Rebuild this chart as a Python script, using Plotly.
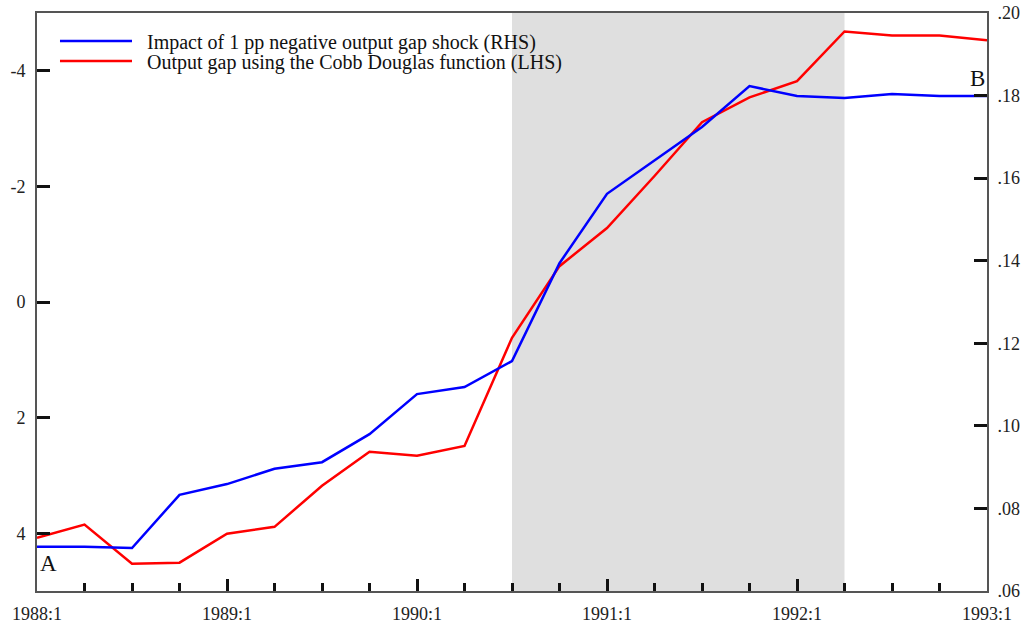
import plotly.graph_objects as go

quarters = ["1988:1", "1988:2", "1988:3", "1988:4",
            "1989:1", "1989:2", "1989:3", "1989:4",
            "1990:1", "1990:2", "1990:3", "1990:4",
            "1991:1", "1991:2", "1991:3", "1991:4",
            "1992:1", "1992:2", "1992:3", "1992:4",
            "1993:1"]

impact_rhs = [0.0707, 0.0707, 0.0704, 0.0833, 0.0859, 0.0896, 0.0912, 0.0980,
              0.1077, 0.1094, 0.1157, 0.1394, 0.1562, 0.1644, 0.1724, 0.1823,
              0.1799, 0.1794, 0.1804, 0.1799, 0.1799]

output_gap_lhs = [4.08, 3.85, 4.53, 4.51, 4.01, 3.89, 3.18, 2.59, 2.66, 2.49,
                  0.62, -0.62, -1.28, -2.18, -3.11, -3.54, -3.82, -4.68, -4.61,
                  -4.61, -4.53]

series_names = ["Impact of 1 pp negative output gap shock (RHS)",
                "Output gap using the Cobb Douglas function (LHS)"]
series_colors = ["#0000ff", "#ff0000"]

shade_start = "1990:3"
shade_end = "1992:2"

left_ticks = [-4, -2, 0, 2, 4]
right_ticks = [0.06, 0.08, 0.10, 0.12, 0.14, 0.16, 0.18, 0.20]
right_ticktext = [".06", ".08", ".10", ".12", ".14", ".16", ".18", ".20"]

x = list(range(len(quarters)))
year_idx = [i for i, q in enumerate(quarters) if q.endswith(":1")]

FONT = "Liberation Serif, Times New Roman, serif"
AXC = "#555555"
TXT = "#222222"

fig = go.Figure()
fig.add_trace(go.Scatter(x=x, y=impact_rhs, mode="lines", yaxis="y2",
                         name=series_names[0], showlegend=False,
                         line=dict(color=series_colors[0], width=2.5)))
fig.add_trace(go.Scatter(x=x, y=output_gap_lhs, mode="lines", yaxis="y",
                         name=series_names[1], showlegend=False,
                         line=dict(color=series_colors[1], width=2.5)))

fig.add_vrect(x0=quarters.index(shade_start), x1=quarters.index(shade_end),
              fillcolor="#dfdfdf", opacity=1, line_width=0, layer="below")

# legend (key) in the top-left corner
key_rows = [0.9516, 0.9170]
for name, color, yk in zip(series_names, series_colors, key_rows):
    fig.add_shape(type="line", xref="paper", yref="paper",
                  x0=0.0242, x1=0.100, y0=yk, y1=yk,
                  line=dict(color=color, width=2.5))
    fig.add_annotation(text=name, xref="paper", yref="paper", x=0.1137, y=yk,
                       xanchor="left", yanchor="middle", yshift=-2, showarrow=False,
                       font=dict(family=FONT, size=20, color="#111111"))

fig.add_annotation(text="A", x=0, y=5, xref="x", yref="y", xanchor="left",
                   yanchor="bottom", xshift=1, yshift=13, showarrow=False,
                   font=dict(family=FONT, size=23, color="#111111"))
fig.add_annotation(text="B", x=x[-1], y=0.18, xref="x", yref="y2", xanchor="right",
                   yanchor="bottom", xshift=0, yshift=3, showarrow=False,
                   font=dict(family=FONT, size=23, color="#111111"))

fig.update_layout(
    width=1026, height=624,
    margin=dict(l=37, r=39, t=13, b=33, autoexpand=False),
    paper_bgcolor="white", plot_bgcolor="white",
    font=dict(family=FONT, size=18, color=TXT),
    showlegend=False,
    xaxis=dict(range=[0, len(quarters) - 1], tickvals=year_idx,
               ticktext=[quarters[i] for i in year_idx], automargin=False,
               ticks="inside", ticklen=12, tickwidth=3, tickcolor="#111111",
               ticklabelstandoff=5,
               minor=dict(dtick=1, ticks="inside", ticklen=8, tickwidth=2.5, tickcolor="#111111"),
               showgrid=False, zeroline=False, showline=True, linecolor=AXC, linewidth=2,
               mirror=True, tickfont=dict(size=18, color=TXT)),
    yaxis=dict(range=[5, -5], tickvals=left_ticks, ticktext=[str(v) for v in left_ticks],
               ticks="inside", ticklen=13, tickwidth=2.5, tickcolor="#111111", automargin=False,
               ticklabelstandoff=6,
               showgrid=False, zeroline=False, showline=True, linecolor=AXC, linewidth=2,
               tickfont=dict(size=18, color=TXT)),
    yaxis2=dict(range=[0.06, 0.20], tickvals=right_ticks, ticktext=right_ticktext,
                overlaying="y", side="right", automargin=False,
                ticks="inside", ticklen=13, tickwidth=2.5, tickcolor="#111111",
                ticklabelstandoff=5,
                showgrid=False, zeroline=False, showline=True, linecolor=AXC, linewidth=2,
                tickfont=dict(size=18, color=TXT)),
)

fig.write_html("out.html")
